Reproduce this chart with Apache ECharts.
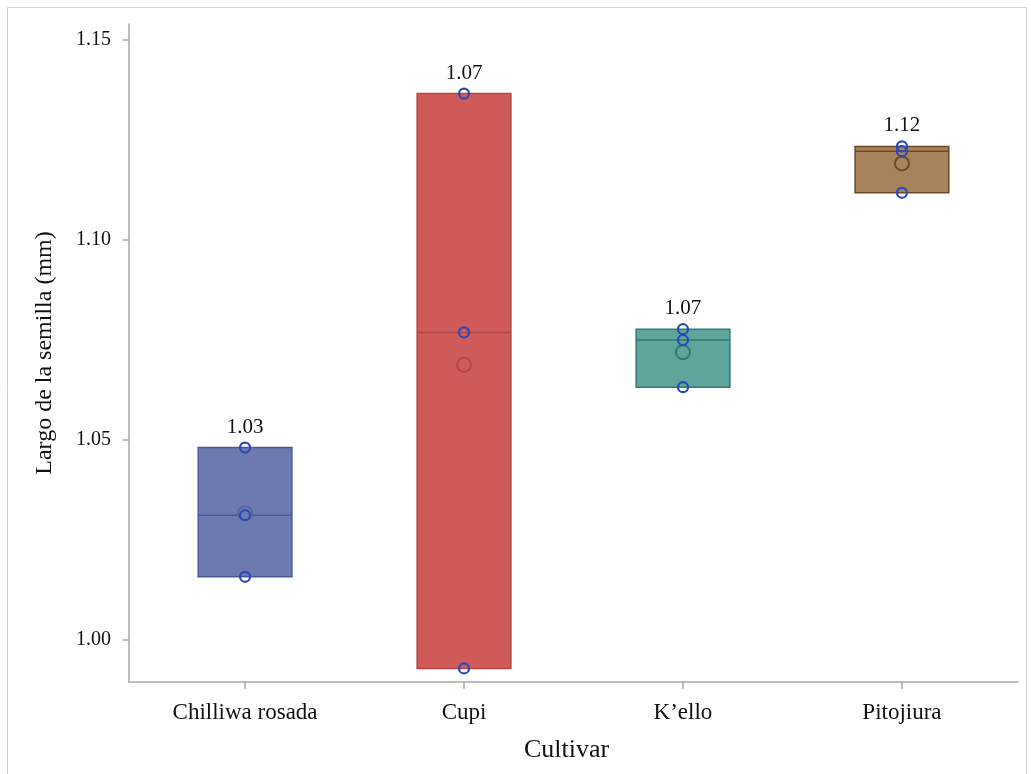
<!DOCTYPE html>
<html>
<head>
<meta charset="utf-8">
<script src="https://cdn.jsdelivr.net/npm/echarts@6/dist/echarts.min.js"></script>
<style>
  html, body { margin: 0; padding: 0; background: #fff; }
  #chart { width: 1031px; height: 774px; }
</style>
</head>
<body>
<div id="chart"></div>
<script>
const cultivars = ['Chilliwa rosada', 'Cupi', 'K\u2019ello', 'Pitojiura'];

// individual seed length readings per cultivar (mm)
const chilliwaRosada = [1.0481, 1.0312, 1.0158];
const cupi = [1.1366, 1.0769, 0.9929];
const kello = [1.0777, 1.0750, 1.0632];
const pitojiura = [1.1234, 1.1222, 1.1118];

const yTicks = [1.00, 1.05, 1.10, 1.15];

const boxFill = ['#6c7ab0', '#d05a5a', '#5fa59b', '#a8825a'];
const boxEdge = ['#4b5b9a', '#b04646', '#2f7d70', '#6a4a24'];
const meanEdge = ['#56669f', '#b04a4a', '#2e7a6c', '#6b4a25'];
const pointColor = '#2b4ab5';
const fontFamily = 'Liberation Serif';
const axisColor = '#a8a8a8';

const groups = [chilliwaRosada, cupi, kello, pitojiura];

function median(arr) {
  const s = [...arr].sort((a, b) => a - b);
  const m = Math.floor(s.length / 2);
  return s.length % 2 ? s[m] : (s[m - 1] + s[m]) / 2;
}
function mean(arr) {
  return arr.reduce((a, b) => a + b, 0) / arr.length;
}

const boxData = groups.map((g, i) => [i, Math.min(...g), median(g), Math.max(...g)]);
const meanData = groups.map((g, i) => ({
  value: [i, mean(g)],
  itemStyle: { color: boxFill[i], borderColor: meanEdge[i], borderWidth: 2, opacity: 1 }
}));
const labelData = groups.map((g, i) => [i, Math.max(...g), mean(g)]);
const pointData = [];
groups.forEach((g, i) => g.forEach(v => pointData.push([i, v])));

const boxHalf = 0.214;

const chart = echarts.init(document.getElementById('chart'));

chart.setOption({
  animation: false,
  backgroundColor: '#fff',
  graphic: [{
    type: 'rect',
    shape: { x: 7.5, y: 7.5, width: 1019, height: 790 },
    style: { fill: 'none', stroke: '#cfcfcf', lineWidth: 1 },
    silent: true
  }],
  grid: { left: 129, right: 13, top: 24, bottom: 92 },
  xAxis: {
    type: 'value',
    min: -0.53,
    max: 3.53,
    name: 'Cultivar',
    nameLocation: 'middle',
    nameGap: 55,
    nameTextStyle: { fontFamily, fontSize: 26, color: '#111', padding: [0, 14, 0, 0] },
    splitLine: { show: false },
    axisLine: { show: true, onZero: false, lineStyle: { color: axisColor, width: 1.5 } },
    axisTick: { show: true, length: 7, customValues: [0, 1, 2, 3], lineStyle: { color: axisColor, width: 1.5 } },
    axisLabel: {
      customValues: [0, 1, 2, 3],
      formatter: v => cultivars[Math.round(v)],
      fontFamily,
      fontSize: 23,
      color: '#111',
      margin: 19
    }
  },
  yAxis: {
    type: 'value',
    min: 0.9895,
    max: 1.154,
    name: 'Largo de la semilla (mm)',
    nameLocation: 'middle',
    nameGap: 72,
    nameTextStyle: { fontFamily, fontSize: 24, color: '#111' },
    splitLine: { show: false },
    axisLine: { show: true, onZero: false, lineStyle: { color: axisColor, width: 1.5 } },
    axisTick: { show: true, length: 6, customValues: yTicks, lineStyle: { color: axisColor, width: 1.5 } },
    axisLabel: {
      customValues: yTicks,
      formatter: v => v.toFixed(2),
      fontFamily,
      fontSize: 20,
      color: '#111',
      margin: 18
    }
  },
  series: [
    {
      type: 'custom',
      data: boxData,
      z: 1,
      renderItem(params, api) {
        const i = api.value(0);
        const lo = api.coord([i - boxHalf, api.value(1)]);
        const hi = api.coord([i + boxHalf, api.value(3)]);
        const mL = api.coord([i - boxHalf, api.value(2)]);
        const mR = api.coord([i + boxHalf, api.value(2)]);
        return {
          type: 'group',
          children: [
            {
              type: 'rect',
              shape: { x: lo[0], y: hi[1], width: hi[0] - lo[0], height: lo[1] - hi[1] },
              style: { fill: boxFill[i], stroke: boxEdge[i], lineWidth: 1.5 }
            },
            {
              type: 'line',
              shape: { x1: mL[0], y1: mL[1], x2: mR[0], y2: mR[1] },
              style: { stroke: boxEdge[i], lineWidth: 1.5 }
            }
          ]
        };
      }
    },
    {
      type: 'scatter',
      data: meanData,
      z: 2,
      symbol: 'circle',
      symbolSize: 14
    },
    {
      type: 'scatter',
      data: pointData,
      z: 3,
      symbol: 'circle',
      symbolSize: 10,
      itemStyle: { color: 'rgba(0,0,0,0)', borderColor: pointColor, borderWidth: 2.2, opacity: 1 }
    },
    {
      type: 'scatter',
      data: labelData,
      z: 4,
      symbolSize: 0,
      itemStyle: { opacity: 1 },
      label: {
        show: true,
        position: 'top',
        distance: 10,
        formatter: p => p.value[2].toFixed(2),
        fontFamily,
        fontSize: 21,
        color: '#111',
        opacity: 1,
        textBorderWidth: 0
      }
    }
  ]
});
</script>
</body>
</html>
